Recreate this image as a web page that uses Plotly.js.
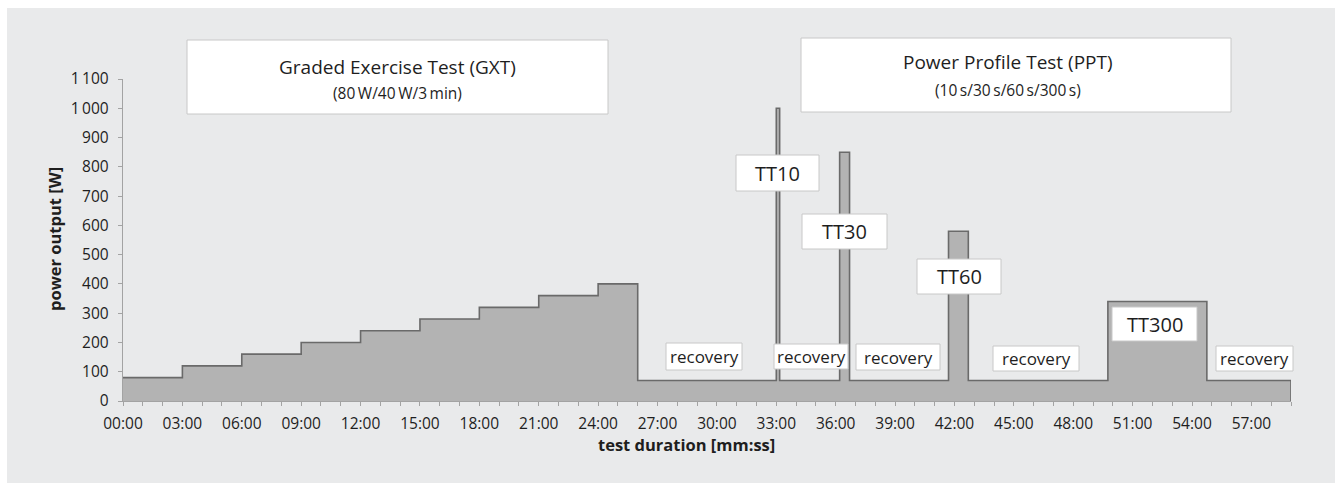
<!DOCTYPE html>
<html>
<head>
<meta charset="utf-8">
<script src="https://cdn.plot.ly/plotly-3.0.1.min.js"></script>
<style>
html,body{margin:0;padding:0;background:#fff;}
#chart{width:1335px;height:484px;}
</style>
</head>
<body>
<div id="chart"></div>
<script>
// ---- data (minutes, watts) ----
var stepStartMin = [0, 3, 6, 9, 12, 15, 18, 21, 24, 26, 33, 33.17, 36.2, 36.7, 41.7, 42.7, 49.75, 54.75, 59, 59];
var powerW      = [80, 120, 160, 200, 240, 280, 320, 360, 400, 70, 1000, 70, 850, 70, 580, 70, 340, 70, 70, 0];

var yTickVals = [0, 100, 200, 300, 400, 500, 600, 700, 800, 900, 1000, 1100];
var yTickText = ["0", "100", "200", "300", "400", "500", "600", "700", "800", "900", "1\u2009000", "1\u2009100"];
var xLabelEvery = 3;
var xMax = 59;

var phaseTitles = ["Graded Exercise Test (GXT)", "Power Profile Test (PPT)"];
var phaseSubs = ["(80\u2009W/40\u2009W/3\u2009min)", "(10\u2009s/30\u2009s/60\u2009s/300\u2009s)"];
var ttLabels = ["TT10", "TT30", "TT60", "TT300"];
var recoveryLabel = "recovery";

// ---- layout helpers (pixel -> paper) ----
var L = 123, R = 1291, T = 79, B = 401;
function px(x){ return (x - L) / (R - L); }
function py(y){ return (B - y) / (B - T); }

var xTickVals = [], xTickText = [];
for (var m = 0; m <= xMax; m++) {
  xTickVals.push(m);
  xTickText.push(m % xLabelEvery === 0 ? ((m < 10 ? "0" : "") + m + ":00") : "");
}

var FONT = "Open Sans, sans-serif";
var TXT = "#1e1e1e";

var trace = {
  x: stepStartMin, y: powerW, type: "scatter", mode: "lines",
  line: {shape: "hv", color: "#6a6a6a", width: 1.6},
  fill: "tozeroy", fillcolor: "#b3b3b3", hoverinfo: "skip", showlegend: false
};

function box(x0, y0, x1, y1){
  return {type: "rect", xref: "paper", yref: "paper", x0: px(x0), x1: px(x1), y0: py(y1), y1: py(y0),
    fillcolor: "#ffffff", line: {color: "#c8c8c8", width: 1}, layer: "above"};
}
function txt(t, x, y, size){
  return {text: t, xref: "paper", yref: "paper", x: px(x), y: py(y), xanchor: "center", yanchor: "middle",
    showarrow: false, font: {family: FONT, size: size, color: TXT}};
}

var shapes = [
  {type: "rect", xref: "paper", yref: "paper", x0: px(7), x1: px(1340), y0: py(483), y1: py(8),
   fillcolor: "#e9eaeb", line: {width: 0}, layer: "below"},
  box(187, 40, 608, 114),
  box(801, 38, 1231, 112),
  box(736, 155, 819, 191),
  box(802, 214, 887, 249),
  box(917, 259, 1001, 294),
  box(1112, 307, 1197, 341),
  box(666, 343, 742, 370),
  box(774, 344, 848, 369),
  box(856, 344, 940, 370),
  box(993, 346, 1079, 371),
  box(1216, 346, 1293, 371)
];

var annotations = [
  txt(phaseTitles[0], 397, 67, 19),
  txt(phaseSubs[0], 397, 93, 15.5),
  txt(phaseTitles[1], 1008, 62, 19),
  txt(phaseSubs[1], 1008, 90, 15.5),
  txt(ttLabels[0], 777.5, 173, 20),
  txt(ttLabels[1], 844.5, 231.5, 20),
  txt(ttLabels[2], 959, 276.5, 20),
  txt(ttLabels[3], 1154.5, 324, 20),
  txt(recoveryLabel, 704, 356.5, 17),
  txt(recoveryLabel, 811, 356.5, 17),
  txt(recoveryLabel, 898, 357, 17),
  txt(recoveryLabel, 1036, 358, 17),
  txt(recoveryLabel, 1254.5, 358, 17),
  {text: "<b>test duration [mm:ss]</b>", xref: "paper", yref: "paper", x: px(686), y: py(444),
   xanchor: "center", yanchor: "middle", showarrow: false, font: {family: FONT, size: 16.5, color: TXT}},
  {text: "<b>power output [W]</b>", xref: "paper", yref: "paper", x: px(54), y: py(239), textangle: -90,
   xanchor: "center", yanchor: "middle", showarrow: false, font: {family: FONT, size: 16.5, color: TXT}}
];

var axisCommon = {
  showgrid: false, zeroline: false, showline: true, linecolor: "#a3a3a3", linewidth: 1.2,
  ticks: "outside", ticklen: 4, tickcolor: "#a3a3a3", tickwidth: 1,
  tickfont: {family: FONT, size: 15.5, color: TXT}, fixedrange: true
};

var layout = {
  width: 1335, height: 484,
  margin: {l: L, r: 1335 - R, t: T, b: 484 - B, pad: 0},
  paper_bgcolor: "#ffffff", plot_bgcolor: "rgba(0,0,0,0)",
  font: {family: FONT, color: TXT},
  xaxis: Object.assign({}, axisCommon, {range: [0, xMax], tickmode: "array", tickvals: xTickVals, ticktext: xTickText, ticklabelstandoff: 4}),
  yaxis: Object.assign({}, axisCommon, {range: [0, 1100], tickmode: "array", tickvals: yTickVals, ticktext: yTickText, ticklabelstandoff: 6}),
  shapes: shapes, annotations: annotations, showlegend: false
};

Plotly.newPlot("chart", [trace], layout, {displayModeBar: false, staticPlot: true});
</script>
</body>
</html>
